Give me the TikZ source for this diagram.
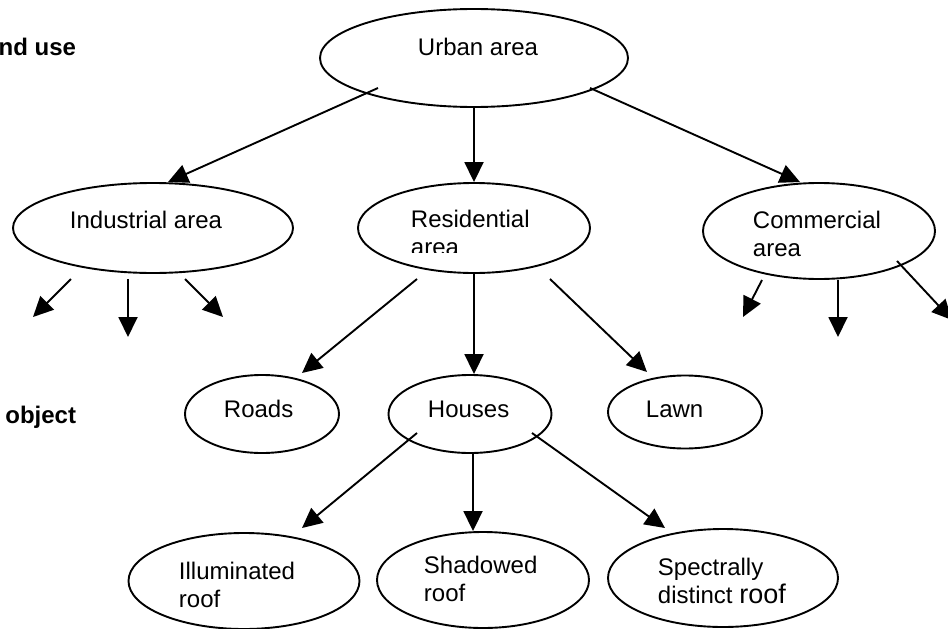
\documentclass[tikz,border=0pt]{standalone}
\usepackage{fontspec}
\setmainfont{Liberation Sans}
\usetikzlibrary{calc,shapes.geometric,arrows.meta}

\begin{document}
\begin{tikzpicture}[x=1pt, y=-1pt, line width=1.9pt]

\tikzset{oval/.style={draw,shape=ellipse,inner sep=0pt},
arr/.style={-{Triangle[length=20pt,width=19pt]}},
lbl/.style={anchor=base west,inner sep=0pt,align=left,font=\fontsize{24}{28}\selectfont},
side/.style={anchor=base east,inner sep=0pt,font=\fontsize{24}{28}\selectfont\bfseries}}

\useasboundingbox (0,0) rectangle (948,629);
\clip (0,0) rectangle (948,629);

% Levels
\node[side] (landuse) at (77,55) {nd use};
\node[side] (object) at (77,423) {object};

% Ovals
\node[oval,minimum width=308pt,minimum height=98pt] (urban) at (474,58) {};
\node[oval,minimum width=280pt,minimum height=90pt] (industrial) at (153,228) {};
\node[oval,minimum width=232pt,minimum height=90pt] (residential) at (474,228) {};
\node[oval,minimum width=232pt,minimum height=96pt] (commercial) at (819,231) {};
\node[oval,minimum width=154pt,minimum height=78pt] (roads) at (262,414) {};
\node[oval,minimum width=163pt,minimum height=78pt] (houses) at (470,414) {};
\node[oval,minimum width=154pt,minimum height=73pt] (lawn) at (685,412) {};
\node[oval,minimum width=231pt,minimum height=96pt] (illuminated) at (244,581) {};
\node[oval,minimum width=212pt,minimum height=96pt] (shadowed) at (483,580) {};
\node[oval,minimum width=230pt,minimum height=98pt] (spectral) at (723,578) {};

% Texts (base = last line)
\node[lbl] (urbantxt) at (417,55) {Urban area};
\node[lbl] (industrialtxt) at (69,228) {Industrial area};
\begin{scope}
\clip (360,190) rectangle (600,252);
\node[lbl] (residentialtxt) at (410,255) {Residential\\area};
\end{scope}
\node[lbl] (commercialtxt) at (752,256) {Commercial\\area};
\node[lbl] (roadstxt) at (223,417) {Roads};
\node[lbl] (housestxt) at (427,417) {Houses};
\node[lbl] (lawntxt) at (645,417) {Lawn};
\node[lbl] (illuminatedtxt) at (178,607) {Illuminated\\roof};
\node[lbl] (shadowedtxt) at (423,601) {Shadowed\\roof};
\node[lbl] (spectraltxt) at (657,603) {Spectrally\\distinct {\fontsize{27}{28}\selectfont roof}};

% Arrows from urban area
\draw[arr] ($(urban)+(-96,30)$) -- ($(industrial.north)+(15,0)$);
\draw[arr] (urban.south) -- (residential.north);
\draw[arr] ($(urban)+(116,30)$) -- ($(commercial.north)+(-19,0)$);

% Arrows from residential area
\draw[arr] ($(residential)+(-57,51)$) -- ($(roads)+(40,-41)$);
\draw[arr] (residential.south) -- (residential.south |- houses.north);
\draw[arr] ($(residential)+(76,51)$) -- ($(lawn)+(-38,-40)$);

% Arrows from houses
\draw[arr] ($(houses)+(-53,19)$) -- ($(illuminated)+(58,-53)$);
\draw[arr] ($(houses)+(3,39)$) -- ($(shadowed.north)+(-10,0)$);
\draw[arr] ($(houses)+(62,19)$) -- ($(spectral)+(-58,-50)$);

% Open ends
\coordinate (ind1) at (33,317);
\coordinate (ind2) at (128,337);
\coordinate (ind3) at (223,317);
\coordinate (com1) at (743,317);
\coordinate (com2) at (838,337);
\coordinate (com3) at (952,320);
\foreach \dx/\dy/\e in {-82/51/ind1, -25/51/ind2, 32/51/ind3} \draw[arr] ($(industrial)+(\dx,\dy)$) -- (\e);
\foreach \dx/\dy/\e in {-57/49/com1, 19/49/com2, 78/30/com3} \draw[arr] ($(commercial)+(\dx,\dy)$) -- (\e);

\end{tikzpicture}
\end{document}
